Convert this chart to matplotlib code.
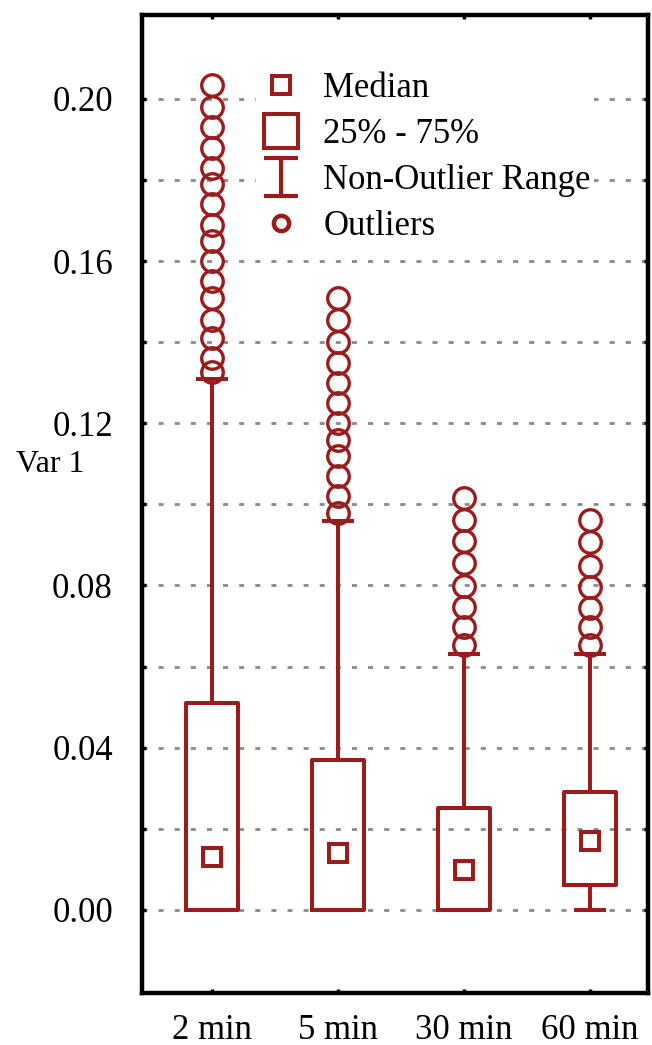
import matplotlib
matplotlib.use("Agg")
import matplotlib.pyplot as plt
from matplotlib.lines import Line2D
from matplotlib.path import Path
import numpy as np

# ---- data ----
categories = ['2 min', '5 min', '30 min', '60 min']
q1_vals = [0.0, 0.0, 0.0, 0.0062]
q3_vals = [0.051, 0.037, 0.025, 0.029]
median_vals = [0.0131, 0.0141, 0.0099, 0.0170]
whisker_low = [0.0, 0.0, 0.0, 0.0]
whisker_high = [0.131, 0.096, 0.063, 0.063]
outliers_2min = [0.2035, 0.198, 0.193, 0.188, 0.183, 0.179, 0.174, 0.169,
                 0.165, 0.160, 0.155, 0.151, 0.1455, 0.141, 0.136, 0.1327]
outliers_5min = [0.151, 0.1455, 0.140, 0.135, 0.130, 0.125, 0.120, 0.116,
                 0.112, 0.107, 0.102, 0.098]
outliers_30min = [0.1016, 0.0962, 0.0910, 0.0855, 0.0799, 0.0747, 0.0698, 0.0654]
outliers_60min = [0.0962, 0.0908, 0.0848, 0.0797, 0.0745, 0.0698, 0.0654]
outliers = [outliers_2min, outliers_5min, outliers_30min, outliers_60min]

ytick_major = [0.00, 0.04, 0.08, 0.12, 0.16, 0.20]
ytick_minor = [0.02, 0.06, 0.10, 0.14, 0.18]

RED = '#9B1C1C'
plt.rcParams['font.family'] = ['Liberation Serif', 'DejaVu Serif']

fig = plt.figure(figsize=(6.52, 10.45), dpi=100)
ax = fig.add_axes([0.218, 0.0498, 0.776, 0.9358])

positions = np.arange(1, len(categories) + 1)
stats = []
for i, c in enumerate(categories):
    stats.append(dict(label=c, med=median_vals[i], q1=q1_vals[i], q3=q3_vals[i],
                      whislo=whisker_low[i], whishi=whisker_high[i],
                      fliers=outliers[i]))

lw = 2.9
ax.bxp(stats, positions=positions, widths=0.41, capwidths=0.22,
       showfliers=True, manage_ticks=False,
       boxprops=dict(color=RED, linewidth=lw),
       whiskerprops=dict(color=RED, linewidth=lw),
       capprops=dict(color=RED, linewidth=lw),
       medianprops=dict(linestyle='none'),
       flierprops=dict(marker='o', markerfacecolor='none', markeredgecolor=RED,
                       markersize=15.5, markeredgewidth=2.4, linestyle='none'),
       zorder=3)
ax.plot(positions, median_vals, linestyle='none', marker='s', markersize=12.5,
        markerfacecolor='none', markeredgecolor=RED, markeredgewidth=2.9, zorder=4)

ax.set_xlim(0.444, 4.46)
ax.set_ylim(-0.0205, 0.2207)
ax.set_xticks(positions)
ax.set_xticklabels(categories)
ax.set_yticks(ytick_major)
ax.set_yticklabels([f'{v:.2f}' for v in ytick_major])
ax.set_yticks(ytick_minor, minor=True)

ax.grid(True, axis='y', which='both', color='#8a8a8a', linewidth=2.0,
        linestyle=(0, (1.8, 4.0)), zorder=0)
ax.set_axisbelow(True)

for s in ax.spines.values():
    s.set_linewidth(3.2)
    s.set_color('black')

ax.tick_params(axis='both', which='both', direction='in', length=3, width=2.5,
               top=True, right=True, labelsize=25, color='black')
ax.tick_params(axis='y', which='both', pad=21)
ax.tick_params(axis='x', which='both', pad=15)

ax.set_ylabel('Var 1', rotation=0, fontsize=23, ha='center', va='center')
ax.yaxis.set_label_coords(-0.182, 0.54)

# legend handles
ibeam = Path([(-0.9, 1), (0.9, 1), (0, 1), (0, -1), (-0.9, -1), (0.9, -1)],
             [Path.MOVETO, Path.LINETO, Path.MOVETO, Path.LINETO, Path.MOVETO, Path.LINETO])
h_med = Line2D([], [], linestyle='none', marker='s', markersize=12.5,
               markerfacecolor='none', markeredgecolor=RED, markeredgewidth=2.9)
h_box = Line2D([], [], linestyle='none', marker='s', markersize=25,
               markerfacecolor='none', markeredgecolor=RED, markeredgewidth=2.9)
h_whisk = Line2D([], [], linestyle='none', marker=ibeam, markersize=27,
                 markerfacecolor='none', markeredgecolor=RED, markeredgewidth=3.0)
h_out = Line2D([], [], linestyle='none', marker='o', markersize=11,
               markerfacecolor='none', markeredgecolor=RED, markeredgewidth=3.2)
leg = ax.legend([h_med, h_box, h_whisk, h_out],
                ['Median', '25% - 75%', 'Non-Outlier Range', 'Outliers'],
                loc='upper left', bbox_to_anchor=(0.226, 0.945), frameon=True,
                facecolor='white', edgecolor='none', framealpha=1.0, fancybox=False,
                fontsize=25, handlelength=1.2, handletextpad=0.62,
                labelspacing=0.37, borderpad=0.1, borderaxespad=0)
leg.set_zorder(5)

fig.savefig('out.png', dpi=100)
